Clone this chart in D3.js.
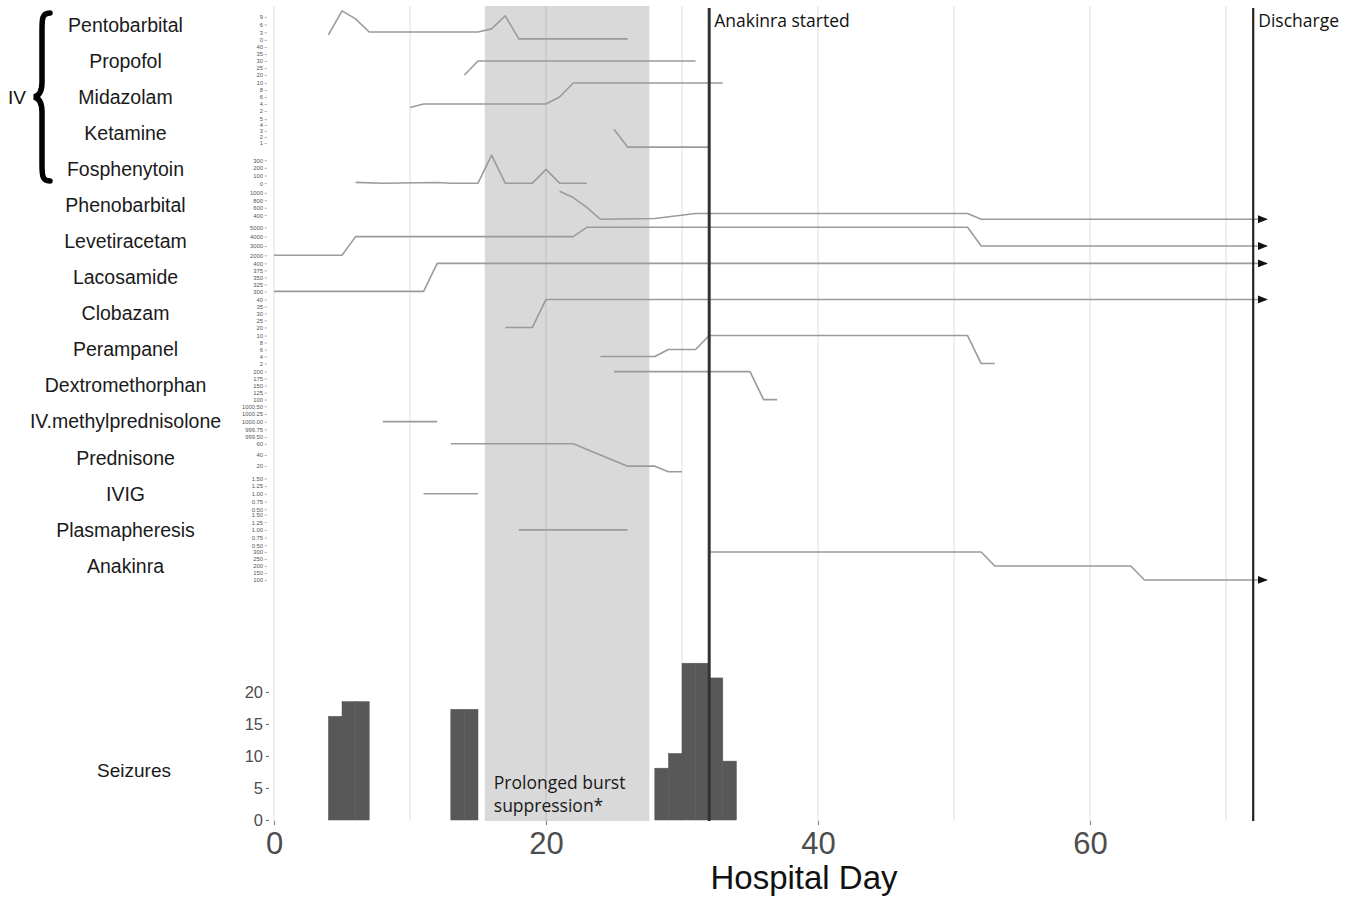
<!DOCTYPE html>
<html>
<head>
<meta charset="utf-8">
<script src="https://cdn.jsdelivr.net/npm/d3@7"></script>
<style>
  html, body { margin: 0; padding: 0; background: #fff; }
  svg { display: block; }
</style>
</head>
<body>
<svg id="chart" width="1359" height="897"></svg>
<script>
// ---------------- DATA ----------------
const drugNames = ["Pentobarbital","Propofol","Midazolam","Ketamine","Fosphenytoin","Phenobarbital",
  "Levetiracetam","Lacosamide","Clobazam","Perampanel","Dextromethorphan","IV.methylprednisolone",
  "Prednisone","IVIG","Plasmapheresis","Anakinra"];

// [hospital day, dose]
const pentobarbital = [[4,2],[5,11.3],[6,8.2],[7,3.1],[15,3.1],[16,4.3],[17,9.4],[18,0.4],[26,0.4]];
const propofol = [[14,20],[15,30],[31,30]];
const midazolam = [[10,3],[11,4],[20,4],[21,6],[22,10],[33,10]];
const ketamine = [[25,3.3],[26,0.3],[32,0.3]];
const fosphenytoin = [[6,10],[8,0],[12,8],[13,0],[15,0],[16,365],[17,0],[19,0],[20,180],[21,0],[23,0]];
const phenobarbital = [[21,1040],[22,870],[23,610],[24,290],[28,310],[31,445],[51,445],[52,290],[73,290]];
const levetiracetam = [[0,2000],[5,2000],[6,4000],[22,4000],[23,5000],[51,5000],[52,3000],[73,3000]];
const lacosamide = [[0,300],[11,300],[12,400],[73,400]];
const clobazam = [[17,20],[19,20],[20,40],[73,40]];
const perampanel = [[24,4],[28,4],[29,6],[31,6],[32,10],[51,10],[52,2],[53,2]];
const dextromethorphan = [[25,200],[35,200],[36,100],[37,100]];
const methylprednisolone = [[8,1000],[12,1000]];
const prednisone = [[13,60],[22,60],[26,20],[28,20],[29,10],[30,10]];
const ivig = [[11,1],[15,1]];
const plasmapheresis = [[18,1],[26,1]];
const anakinra = [[32,300],[52,300],[53,200],[63,200],[64,100],[73,100]];

const drugSeries = [pentobarbital, propofol, midazolam, ketamine, fosphenytoin, phenobarbital,
  levetiracetam, lacosamide, clobazam, perampanel, dextromethorphan, methylprednisolone,
  prednisone, ivig, plasmapheresis, anakinra];

// y-limits of each facet (before 5% expansion)
const drugLimits = [[0.4,11.3],[20,40],[2,10],[0.3,5],[0,365],[290,1040],[2000,5000],[300,400],
  [20,40],[2,10],[100,200],[1000,1000],[10,60],[1,1],[1,1],[100,300]];

const drugTicks = [[0,3,6,9],[20,25,30,35,40],[2,4,6,8,10],[1,2,3,4,5],[0,100,200,300],
  [400,600,800,1000],[2000,3000,4000,5000],[300,325,350,375,400],[20,25,30,35,40],[2,4,6,8,10],
  [100,125,150,175,200],[999.5,999.75,1000,1000.25,1000.5],[20,40,60],[0.5,0.75,1,1.25,1.5],
  [0.5,0.75,1,1.25,1.5],[100,150,200,250,300]];
const drugTickFormats = ["d","d","d","d","d","d","d","d","d","d","d",".2f","d",".2f",".2f","d"];

// therapies continuing after discharge (arrow)
const ongoing = ["Phenobarbital","Levetiracetam","Lacosamide","Clobazam","Anakinra"];

const seizureDays   = [4, 5, 6, 13, 14, 28, 29, 30, 31, 32, 33];
const seizureCounts = [16.2, 18.5, 18.5, 17.3, 17.3, 8.1, 10.4, 24.5, 24.5, 22.2, 9.2];
const seizureTicks = [0, 5, 10, 15, 20];

const xTicks = [0, 20, 40, 60];
const gridDays = [0, 10, 20, 30, 40, 50, 60, 70];
const burstSuppression = [15.5, 27.6];
const anakinraStart = 32;
const dischargeDay = 72;

// ---------------- CHART ----------------
const svg = d3.select("#chart");
const FONT = "'Liberation Sans', Arial, sans-serif";
const FONT2 = "'Open Sans', 'Noto Sans', sans-serif";

const x = d3.scaleLinear().domain([0, 73]).range([274, 274 + 13.6 * 73]);
const band = d3.scaleBand().domain(drugNames).range([9.5, 581.35]).paddingInner(0.146).paddingOuter(0);
const ySz = d3.scaleLinear().domain([0, 25]).range([820, 660]);

const plotTop = 6, plotBottom = 821;

// burst suppression shading
svg.append("rect")
  .attr("x", x(burstSuppression[0])).attr("y", plotTop)
  .attr("width", x(burstSuppression[1]) - x(burstSuppression[0]))
  .attr("height", plotBottom - plotTop)
  .attr("fill", "#d9d9d9");

// gridlines
svg.append("g").selectAll("line").data(gridDays).join("line")
  .attr("x1", d => x(d)).attr("x2", d => x(d))
  .attr("y1", plotTop).attr("y2", plotBottom)
  .attr("stroke", "rgba(0,0,0,0.085)").attr("stroke-width", 1.5);

// arrow marker
svg.append("defs").append("marker")
  .attr("id", "arrow").attr("viewBox", "0 0 10 8")
  .attr("refX", 9).attr("refY", 4)
  .attr("markerWidth", 10).attr("markerHeight", 8)
  .attr("markerUnits", "userSpaceOnUse").attr("orient", "auto")
  .append("path").attr("d", "M0,0 L10,4 L0,8 Z").attr("fill", "#111");

// facets
drugNames.forEach((name, i) => {
  const lim = drugLimits[i];
  let dom;
  if (lim[1] - lim[0] === 0) dom = [lim[0] - 0.5, lim[1] + 0.5];
  else { const pad = (lim[1] - lim[0]) * 0.05; dom = [lim[0] - pad, lim[1] + pad]; }
  const top = band(name), bw = band.bandwidth();
  const y = d3.scaleLinear().domain(dom).range([top + bw, top]);

  // label
  svg.append("text")
    .attr("x", 125.5).attr("y", top + bw / 2).attr("dy", "0.35em")
    .attr("text-anchor", "middle")
    .attr("font-family", FONT).attr("font-size", 19.5).attr("fill", "#1a1a1a")
    .text(name);

  // mini axis
  const ax = svg.append("g").attr("transform", "translate(267,0)")
    .call(d3.axisLeft(y).tickValues(drugTicks[i]).tickSize(2.5).tickPadding(1.5)
      .tickFormat(d3.format(drugTickFormats[i])));
  ax.select(".domain").remove();
  ax.selectAll("text").attr("font-family", FONT).attr("font-size", 5.8).attr("fill", "#555");
  ax.selectAll("line").attr("stroke", "#888").attr("stroke-width", 0.6);

  // line
  const line = d3.line().x(d => x(d[0])).y(d => y(d[1]));
  svg.append("path")
    .datum(drugSeries[i])
    .attr("d", line)
    .attr("fill", "none")
    .attr("stroke", "#9b9b9b")
    .attr("stroke-width", 1.6)
    .attr("stroke-linejoin", "round")
    .attr("marker-end", ongoing.includes(name) ? "url(#arrow)" : null);
});

// seizure bars
svg.append("g").selectAll("rect").data(seizureDays.map((d, i) => [d, seizureCounts[i]])).join("rect")
  .attr("x", d => x(d[0])).attr("width", d => x(d[0] + 1) - x(d[0]))
  .attr("y", d => ySz(d[1])).attr("height", d => ySz(0) - ySz(d[1]))
  .attr("fill", "#585858").attr("stroke", "#585858").attr("stroke-width", 0.5);

// seizure axis
const sax = svg.append("g").attr("transform", "translate(269,0)")
  .call(d3.axisLeft(ySz).tickValues(seizureTicks).tickSize(3).tickPadding(3));
sax.select(".domain").remove();
sax.selectAll("text").attr("font-family", FONT).attr("font-size", 16.5).attr("fill", "#4d4d4d");
sax.selectAll("line").attr("stroke", "#666");

svg.append("text").attr("x", 134).attr("y", 770).attr("dy", "0.35em")
  .attr("text-anchor", "middle").attr("font-family", FONT).attr("font-size", 19).attr("fill", "#1a1a1a")
  .text("Seizures");

// vertical event lines
svg.append("line").attr("x1", x(anakinraStart)).attr("x2", x(anakinraStart))
  .attr("y1", 8).attr("y2", plotBottom).attr("stroke", "#333").attr("stroke-width", 3);
svg.append("line").attr("x1", x(dischargeDay)).attr("x2", x(dischargeDay))
  .attr("y1", 8).attr("y2", plotBottom).attr("stroke", "#222").attr("stroke-width", 2.2);

svg.append("text").attr("x", x(anakinraStart) + 5).attr("y", 27)
  .attr("font-family", FONT2).attr("font-size", 17.5).attr("fill", "#111").text("Anakinra started");
svg.append("text").attr("x", x(dischargeDay) + 5).attr("y", 27)
  .attr("font-family", FONT2).attr("font-size", 17.5).attr("fill", "#111").text("Discharge");

svg.append("text").attr("x", x(burstSuppression[0]) + 9).attr("y", 789)
  .attr("font-family", FONT2).attr("font-size", 17.5).attr("fill", "#1a1a1a").text("Prolonged burst");
svg.append("text").attr("x", x(burstSuppression[0]) + 9).attr("y", 812)
  .attr("font-family", FONT2).attr("font-size", 17.5).attr("fill", "#1a1a1a").text("suppression*");

// x axis
const xax = svg.append("g").attr("transform", `translate(0,${plotBottom})`)
  .call(d3.axisBottom(x).tickValues(xTicks).tickSize(4).tickPadding(7));
xax.select(".domain").remove();
xax.selectAll("text").attr("font-family", FONT).attr("font-size", 31).attr("fill", "#4d4d4d");
xax.selectAll("line").attr("stroke", "#777");

svg.append("text").attr("x", 804).attr("y", 889).attr("text-anchor", "middle")
  .attr("font-family", FONT).attr("font-size", 33).attr("fill", "#111").text("Hospital Day");

// IV brace
svg.append("text").attr("x", 8).attr("y", 97).attr("dy", "0.35em")
  .attr("font-family", FONT).attr("font-size", 19).attr("fill", "#111").text("IV");
svg.append("path")
  .attr("d", "M50,13 C42,13 42,19 42,30 L42,82 C42,92 39,96 34,97 C39,98 42,102 42,112 L42,164 C42,175 42,181 50,181")
  .attr("fill", "none").attr("stroke", "#000").attr("stroke-width", 5.5).attr("stroke-linecap", "round");
</script>
</body>
</html>
